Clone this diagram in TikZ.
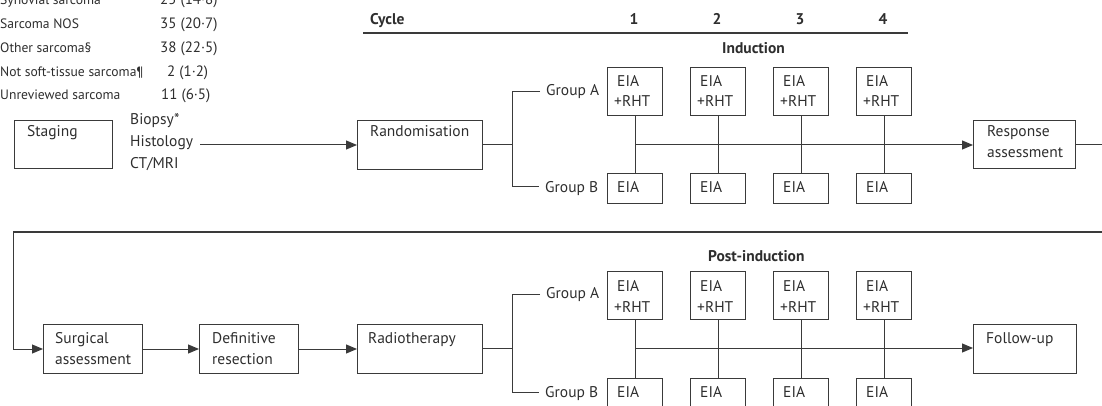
\documentclass[tikz,border=0pt]{standalone}
\usepackage{fontspec}
\setmainfont{PT Sans}
\usetikzlibrary{arrows.meta}
\definecolor{linec}{HTML}{3A3A3A}
\definecolor{textc}{HTML}{2E2E2E}
\begin{document}
\begin{tikzpicture}[x=1pt,y=-1pt,
  frame/.style={draw=linec, line width=1.2pt, inner sep=0pt, anchor=north west},
  lbl/.style={anchor=base west, inner sep=0pt, text=textc, font=\fontsize{15.5}{17}\selectfont},
  tbl/.style={lbl, font=\fontsize{13.6}{16}\selectfont},
  num/.style={lbl, font=\fontsize{15}{17}\selectfont},
  hd/.style={lbl, font=\fontsize{15.5}{17}\selectfont\bfseries},
  conn/.style={draw=linec, line width=1pt},
  arr/.style={conn, -{Triangle[length=11pt,width=9pt]}},
  sep/.style={draw=linec, line width=1.4pt}]
\useasboundingbox (0,0) rectangle (1102,406);
\clip (0,0) rectangle (1102,406);

% ---- table rows
\node[tbl] (r1) at (0,5) {Synovial sarcoma};
\node[tbl] (r2) at (0,28.5) {Sarcoma NOS};
\node[tbl] (r3) at (0,52.5) {Other sarcoma§};
\node[tbl] (r4) at (0,76.5) {Not soft-tissue sarcoma¶};
\node[tbl] (r5) at (0,100) {Unreviewed sarcoma};
\node[num] (n1) at (160,5) {25 (14·8)};
\node[num] (n2) at (160,28.5) {35 (20·7)};
\node[num] (n3) at (160,52.5) {38 (22·5)};
\node[num] (n4) at (167,76.5) {2 (1·2)};
\node[num] (n5) at (161,100) {11 (6·5)};

% ---- cycle header
\node[hd] (cyc) at (370,25) {Cycle};
\node[hd, anchor=base] (c1) at (634,25) {1};
\node[hd, anchor=base] (c2) at (717,25) {2};
\node[hd, anchor=base] (c3) at (800,25) {3};
\node[hd, anchor=base] (c4) at (883,25) {4};
\coordinate (hl) at (363,33);
\coordinate (hr) at (908,33);
\draw[sep] (hl) -- (hr);
\node[hd] (ind) at (722,54) {Induction};

% ---- first row of steps
\node[frame, minimum width=98pt, minimum height=48pt] (stag) at (14,120) {};
\node[lbl] (stagt) at (27,137) {Staging};
\node[lbl] (bio) at (130,125) {Biopsy*};
\node[lbl] (his) at (130,147) {Histology};
\node[lbl] (ctm) at (130,169) {CT/MRI};
\node[frame, minimum width=125pt, minimum height=49pt] (rand) at (357,120) {};
\node[lbl] (randt) at (370,137) {Randomisation};
\node[frame, minimum width=102pt, minimum height=48pt] (resp) at (973,120) {};
\node[lbl] (respt1) at (987,137) {Response};
\node[lbl] (respt2) at (987,158) {assessment};

\coordinate (hisend) at (200,145);
\draw[arr] (hisend) -- (hisend -| rand.west);

% randomisation branch
\coordinate (j1) at (512,145);
\coordinate (j1a) at (512,92);
\coordinate (j1b) at (512,187);
\node[lbl] (gA1) at (546,96) {Group A};
\node[lbl] (gB1) at (545,193) {Group B};
\draw[conn] (rand.east |- j1) -- (j1);
\draw[conn] (540,92) -- (j1a) -- (j1b) -- (539,187);

% induction cycle boxes
\foreach \i/\x in {1/607,2/690,3/773,4/856}{
  \node[frame, minimum width=55pt, minimum height=48pt] (iA\i) at (\x,67) {};
  \node[lbl] (iA\i t1) at (\x+10,87) {EIA};
  \node[lbl] (iA\i t2) at (\x+7,107) {+RHT};
  \node[frame, minimum width=55pt, minimum height=30pt] (iB\i) at (\x,173) {};
  \node[lbl] (iB\i t) at (\x+10,193) {EIA};
  \draw[conn] (iA\i.south) -- (iB\i.north);
}
\draw[arr] (iA1.south |- j1) -- (resp.west |- j1);

% return path to second row
\coordinate (rr) at (1104,145);
\coordinate (rd) at (1104,232);
\coordinate (ld) at (13,232);
\coordinate (lb) at (13,349);

% ---- second row of steps
\node[frame, minimum width=99pt, minimum height=49pt] (surg) at (43,324) {};
\node[lbl] (surgt1) at (55,343) {Surgical};
\node[lbl] (surgt2) at (55,364) {assessment};
\node[frame, minimum width=99pt, minimum height=49pt] (defr) at (199,324) {};
\node[lbl] (defrt1) at (212,343) {Definitive};
\node[lbl] (defrt2) at (212,364) {resection};
\node[frame, minimum width=125pt, minimum height=49pt] (radi) at (357,324) {};
\node[lbl] (radit) at (368,343) {Radiotherapy};
\node[frame, minimum width=103pt, minimum height=49pt] (foll) at (973,324) {};
\node[lbl] (follt) at (986,343) {Follow-up};

\draw[conn] (resp.east |- rr) -- (rr) -- (rd);
\draw[sep] (rd) -- (ld);
\draw[conn] (ld) -- (lb);
\draw[arr] (lb) -- (surg.west |- lb);
\draw[arr] (surg.east |- lb) -- (defr.west |- lb);
\draw[arr] (defr.east |- lb) -- (radi.west |- lb);

\node[hd] (pind) at (708,261) {Post-induction};

% radiotherapy branch
\coordinate (j2) at (512,348);
\coordinate (j2a) at (512,294);
\coordinate (j2b) at (512,392);
\node[lbl] (gA2) at (546,298) {Group A};
\node[lbl] (gB2) at (545,397) {Group B};
\draw[conn] (radi.east |- j2) -- (j2);
\draw[conn] (540,294) -- (j2a) -- (j2b) -- (539,392);

% post-induction cycle boxes
\foreach \i/\x in {1/607,2/690,3/773,4/856}{
  \node[frame, minimum width=55pt, minimum height=48pt] (pA\i) at (\x,271) {};
  \node[lbl] (pA\i t1) at (\x+10,291) {EIA};
  \node[lbl] (pA\i t2) at (\x+7,312) {+RHT};
  \node[frame, minimum width=55pt, minimum height=30pt] (pB\i) at (\x,378) {};
  \node[lbl] (pB\i t) at (\x+10,397) {EIA};
  \draw[conn] (pA\i.south) -- (pB\i.north);
}
\draw[arr] (pA1.south |- j2) -- (foll.west |- j2);
\end{tikzpicture}
\end{document}
